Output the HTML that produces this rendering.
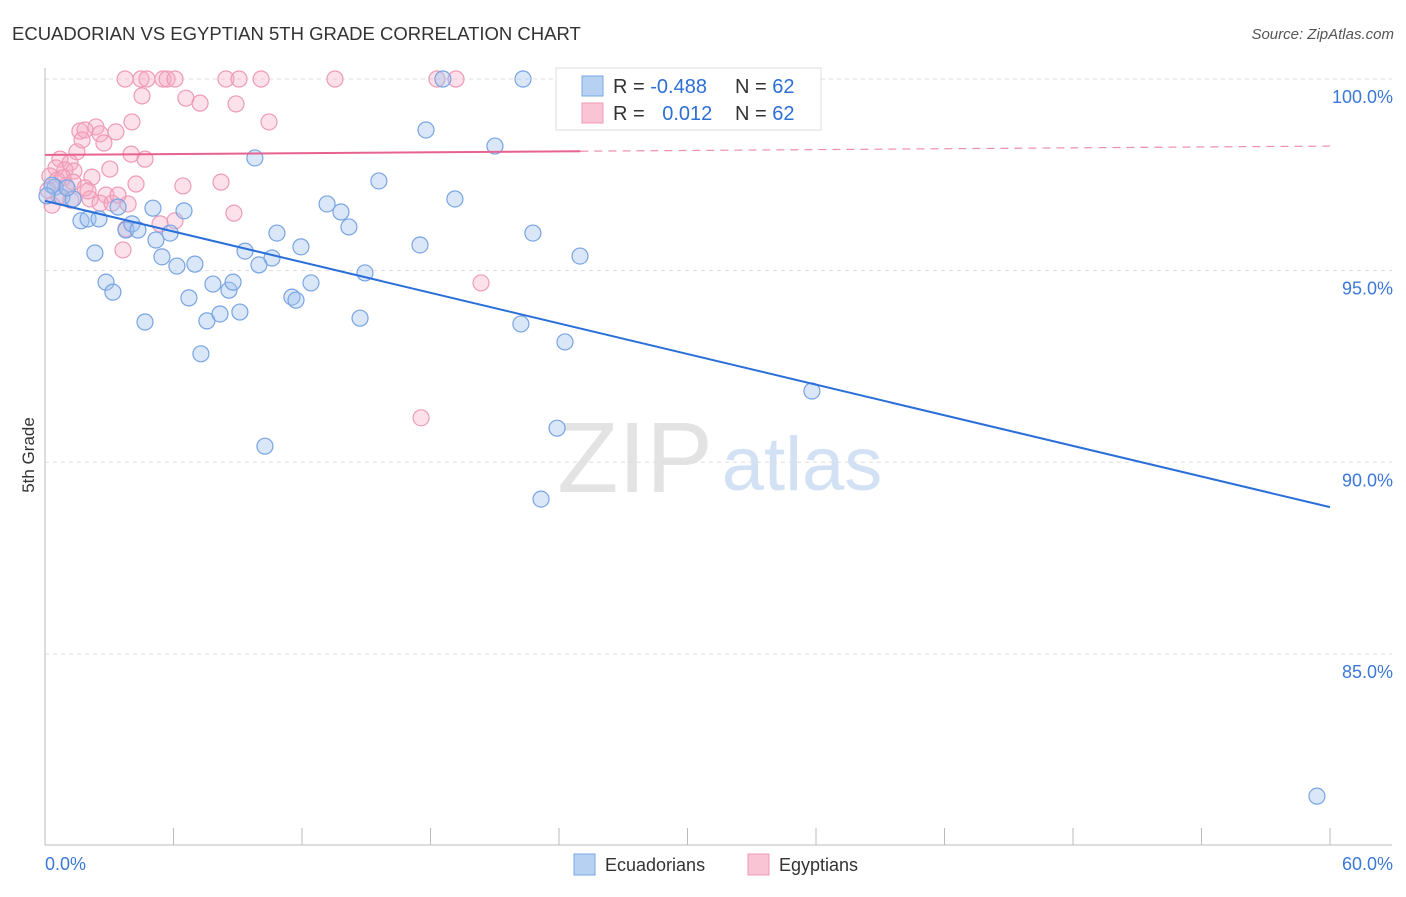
<!DOCTYPE html>
<html><head><meta charset="utf-8"><style>
body{margin:0;background:#fff;font-family:"Liberation Sans",sans-serif;}
svg text{font-family:"Liberation Sans",sans-serif;}
</style></head><body>
<svg id="chart" width="1406" height="892">
<text x="12" y="40" font-size="18.5" fill="#333">ECUADORIAN VS EGYPTIAN 5TH GRADE CORRELATION CHART</text>
<text x="1394" y="39" font-size="15" fill="#555" font-style="italic" text-anchor="end">Source: ZipAtlas.com</text>
<text transform="translate(34,455) rotate(-90)" font-size="17" fill="#333" text-anchor="middle">5th Grade</text>
<g>
<text x="635" y="492" font-size="100" fill="#ddd" font-family="Liberation Serif" text-anchor="middle" opacity="0.8">ZIP</text>
<text x="802" y="490" font-size="76" fill="#c9daf2" text-anchor="middle" opacity="0.8">atlas</text>
</g>
<g id="grid"></g><g id="axes"></g><g id="marks"></g>
<g>
<rect x="556" y="68" width="265" height="62" fill="#fff" stroke="#ddd"/>
<rect x="582" y="76" width="21" height="20" fill="#b7d1f3" stroke="#7aa6e3"/>
<rect x="582" y="103" width="21" height="20" fill="#f9c4d4" stroke="#ef9ab7"/>
<text x="613" y="93" font-size="20" fill="#333">R = <tspan fill="#2d6fd6">-0.488</tspan></text>
<text x="735" y="93" font-size="20" fill="#333">N = <tspan fill="#2d6fd6">62</tspan></text>
<text x="613" y="120" font-size="20" fill="#333">R = <tspan fill="#2d6fd6" dx="12">0.012</tspan></text>
<text x="735" y="120" font-size="20" fill="#333">N = <tspan fill="#2d6fd6">62</tspan></text>
</g>
<g>
<rect x="574" y="854" width="21" height="21" fill="#b7d1f3" stroke="#7aa6e3"/>
<text x="605" y="871" font-size="18" fill="#333">Ecuadorians</text>
<rect x="748" y="854" width="21" height="21" fill="#f9c4d4" stroke="#ef9ab7"/>
<text x="779" y="871" font-size="18" fill="#333">Egyptians</text>
</g>
</svg>
<script>
const blueX=[22.32,18.58,17.79,21.01,9.80,15.59,19.14,13.17,13.82,14.19,22.78,17.51,24.98,10.83,11.95,9.34,10.60,9.99,14.94,12.42,11.53,11.72,14.71,22.22,24.28,35.81,23.91,10.27,23.16,59.39,0.47,0.79,1.31,1.03,1.68,2.01,2.52,2.33,2.85,3.17,3.41,3.78,4.06,4.34,5.04,5.18,5.46,5.84,6.16,6.49,6.72,7.00,7.28,7.56,7.84,8.17,8.59,8.78,9.10,4.67,0.33,0.09];
const blueY=[100,100,98.67,98.25,97.94,97.34,96.87,96.74,96.53,96.14,95.98,95.67,95.38,95.98,95.62,95.51,95.33,95.15,94.94,94.68,94.31,94.23,93.76,93.61,93.14,91.86,90.89,90.42,89.04,81.29,97.18,96.92,96.87,97.16,96.30,96.35,96.35,95.46,94.70,94.44,96.66,96.06,96.22,96.06,96.63,95.80,95.36,95.98,95.12,96.56,94.29,95.17,92.83,93.69,94.65,93.87,94.49,94.70,93.92,93.66,97.23,96.95];
const pinkX=[3.74,4.48,4.76,5.51,5.70,6.07,8.45,9.06,10.09,13.54,18.30,19.19,4.53,6.58,7.24,8.92,10.46,4.06,2.38,1.63,1.87,2.57,3.31,2.75,1.49,4.02,4.67,0.70,1.17,0.51,0.93,1.35,3.03,0.23,2.19,4.25,6.44,8.22,0.98,1.87,2.85,2.10,2.57,3.13,0.33,8.82,6.07,3.78,3.64,20.36,17.56,0.56,0.14,0.84,1.31,3.41,3.88,5.37,2.01,0.65,1.73,1.21];
const pinkY=[100,100,100,100,100,100,100,100,100,100,100,100,99.56,99.50,99.37,99.35,98.88,98.88,98.75,98.64,98.67,98.57,98.62,98.33,98.10,98.04,97.91,97.91,97.81,97.68,97.63,97.60,97.65,97.47,97.44,97.26,97.21,97.31,97.21,97.16,96.97,96.87,96.76,96.76,96.71,96.50,96.30,96.09,95.54,94.68,91.16,97.36,97.10,97.42,97.31,96.97,96.74,96.22,97.08,96.95,98.41,96.84];
const blueTrend=[96.82,88.83];
const pinkTrend=[98.02,98.25];
const yTicks=[100,95,90,85];
const yTickLabels=["100.0%","95.0%","90.0%","85.0%"];
const xTickVals=[0,6,12,18,24,30,36,42,48,54,60];

const NS="http://www.w3.org/2000/svg";
const X0=45,X1=1330,PY100=79,PXPER=38.33;
function sx(v){return X0+(v/60)*(X1-X0);}
function sy(v){return PY100+(100-v)*PXPER;}
function mk(tag,attrs,parent){const e=document.createElementNS(NS,tag);for(const k in attrs)e.setAttribute(k,attrs[k]);parent.appendChild(e);return e;}
const grid=document.getElementById('grid'),axes=document.getElementById('axes'),marks=document.getElementById('marks');
yTicks.forEach((t,i)=>{
  const l=mk('line',{x1:45,x2:1392,y1:sy(t),y2:sy(t),stroke:'#ddd','stroke-dasharray':'4 4'},grid);
  
  
  const tx=mk('text',{x:1393,y:sy(t)+24,'font-size':18,fill:'#3b78d8','text-anchor':'end'},axes);
  tx.textContent=yTickLabels[i];
  
  
});
const ya=mk('line',{x1:45,x2:45,y1:68,y2:845,stroke:'#bbb'},axes);


const xa=mk('line',{x1:45,x2:1392,y1:845,y2:845,stroke:'#bbb'},axes);


xTickVals.forEach(v=>{
  const t=mk('line',{x1:sx(v),x2:sx(v),y1:828,y2:845,stroke:'#bbb'},axes);
  
  
});
const xl0=mk('text',{x:45,y:870,'font-size':18,fill:'#3b78d8'},axes);xl0.textContent='0.0%';


const xl1=mk('text',{x:1393,y:870,'font-size':18,fill:'#3b78d8','text-anchor':'end'},axes);xl1.textContent='60.0%';



pinkX.forEach((x,i)=>{
  const c=mk('circle',{cx:sx(x),cy:sy(pinkY[i]),r:8,fill:'rgba(245,170,195,0.35)',stroke:'#ee9ab8','stroke-width':1.2},marks);
  
  
});
blueX.forEach((x,i)=>{
  const c=mk('circle',{cx:sx(x),cy:sy(blueY[i]),r:8,fill:'rgba(160,195,240,0.4)',stroke:'#78a4e2','stroke-width':1.2},marks);
  
  
});
const bt=mk('line',{x1:sx(0),y1:sy(blueTrend[0]),x2:sx(60),y2:sy(blueTrend[1]),stroke:'#2a6fd9','stroke-width':2},marks);


const pm=pinkTrend[0]+(pinkTrend[1]-pinkTrend[0])*(25/60);
const pt=mk('line',{x1:sx(0),y1:sy(pinkTrend[0]),x2:sx(25),y2:sy(pm),stroke:'#e8628f','stroke-width':2},marks);


const pd=mk('line',{x1:sx(25),y1:sy(pm),x2:sx(60),y2:sy(pinkTrend[1]),stroke:'#ec8fae','stroke-width':1.2,'stroke-dasharray':'8 6'},marks);


</script>
</body></html>
